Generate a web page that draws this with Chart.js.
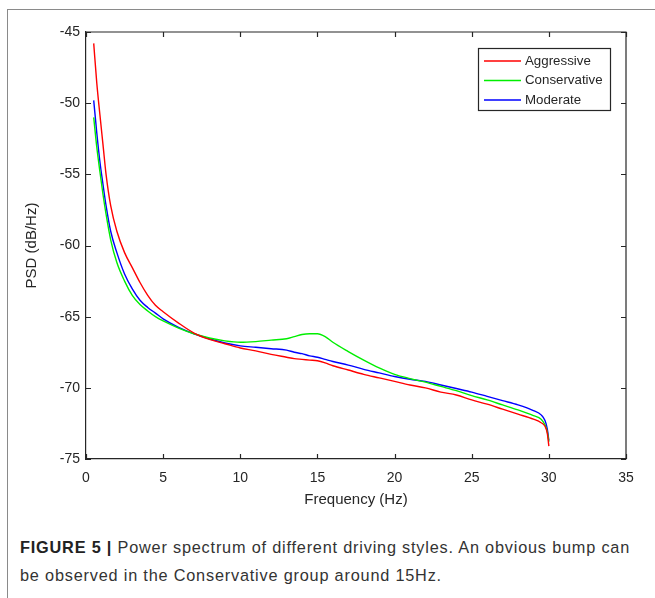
<!DOCTYPE html>
<html>
<head>
<meta charset="utf-8">
<script src="https://cdn.jsdelivr.net/npm/chart.js@4.4.1/dist/chart.umd.min.js"></script>
<style>
  html, body { margin: 0; padding: 0; background: #fff; }
  body { width: 655px; height: 598px; position: relative; overflow: hidden; font-family: "Liberation Sans", Arial, sans-serif; }
  #frame { position: absolute; left: 7px; top: 9px; width: 660px; height: 600px; border-top: 1.5px solid #8a8a8a; border-left: 1.5px solid #8a8a8a; }
  #wrap { position: absolute; left: 0; top: 0; width: 655px; height: 520px; }
  #caption { position: absolute; left: 20px; top: 533px; width: 640px; font-size: 16.3px; letter-spacing: 0.8px; line-height: 28px; color: #333; white-space: nowrap; }
  #caption b { color: #222; }
</style>
</head>
<body>
<div id="frame"></div>
<div id="wrap"><canvas id="c" width="655" height="520"></canvas></div>
<div id="caption"><b>FIGURE 5 |</b> Power spectrum of different driving styles. An obvious bump can<br>be observed in the Conservative group around 15Hz.</div>
<script>
const freq = [0.5, 0.7, 0.9, 1.1, 1.3, 1.6, 2, 2.5, 3, 3.5, 4, 4.5, 5, 6, 7, 8, 9, 10, 11, 12, 13, 13.5, 14, 14.5, 15, 15.5, 16, 17, 18, 19, 20, 21, 22, 23, 24, 25, 26, 27, 28, 29, 29.5, 29.75, 29.9, 30];
const aggressive = [-45.8, -48.6, -50.8, -52.9, -55.0, -57.2, -59.0, -60.5, -61.55, -62.6, -63.5, -64.2, -64.65, -65.45, -66.15, -66.6, -66.9, -67.2, -67.4, -67.65, -67.85, -67.95, -68.0, -68.05, -68.1, -68.25, -68.45, -68.75, -69.05, -69.3, -69.55, -69.8, -70.0, -70.3, -70.5, -70.85, -71.15, -71.5, -71.85, -72.2, -72.45, -72.7, -73.2, -74.1];
const conservative = [-51.0, -53.1, -54.8, -56.4, -57.8, -59.6, -61.2, -62.5, -63.5, -64.15, -64.6, -65.0, -65.3, -65.8, -66.2, -66.5, -66.7, -66.8, -66.75, -66.65, -66.55, -66.4, -66.25, -66.2, -66.2, -66.4, -66.8, -67.45, -68.05, -68.6, -69.05, -69.35, -69.6, -69.9, -70.2, -70.55, -70.85, -71.2, -71.55, -71.95, -72.2, -72.6, -73.1, -73.8];
const moderate = [-49.8, -52.1, -54.1, -55.7, -57.2, -59.0, -60.5, -62.0, -63.05, -63.85, -64.35, -64.75, -65.15, -65.75, -66.2, -66.55, -66.85, -67.05, -67.15, -67.25, -67.35, -67.5, -67.6, -67.75, -67.85, -68.0, -68.15, -68.4, -68.7, -68.95, -69.2, -69.4, -69.55, -69.8, -70.05, -70.3, -70.6, -70.9, -71.2, -71.6, -71.9, -72.3, -72.9, -73.7];
const seriesNames = ["Aggressive", "Conservative", "Moderate"];
const xTicks = [0, 5, 10, 15, 20, 25, 30, 35];
const yTicks = [-45, -50, -55, -60, -65, -70, -75];

const colors = ["#ff0000", "#00ee00", "#0000ff"];
const seriesData = [aggressive, conservative, moderate];
const AXIS = "#262626";

function pts(vals) { return freq.map((f, i) => ({ x: f, y: vals[i] })); }

const boxTicks = {
  id: 'boxTicks',
  afterDraw(chart) {
    const { ctx, chartArea: a, scales: { x, y } } = chart;
    ctx.save();
    ctx.strokeStyle = AXIS;
    ctx.lineWidth = 1.2;
    ctx.beginPath();
    ctx.moveTo(a.left, a.top); ctx.lineTo(a.right, a.top); ctx.lineTo(a.right, a.bottom);
    const L = 5;
    xTicks.forEach(v => {
      const px = Math.round(x.getPixelForValue(v)) + 0.5;
      ctx.moveTo(px, a.bottom); ctx.lineTo(px, a.bottom - L);
      ctx.moveTo(px, a.top); ctx.lineTo(px, a.top + L);
    });
    yTicks.forEach(v => {
      const py = Math.round(y.getPixelForValue(v)) + 0.5;
      ctx.moveTo(a.left, py); ctx.lineTo(a.left + L, py);
      ctx.moveTo(a.right, py); ctx.lineTo(a.right - L, py);
    });
    ctx.stroke();

    // legend
    const lx = 478.5, ly = 48.5, lw = 132, lh = 62;
    ctx.fillStyle = '#fff';
    ctx.fillRect(lx, ly, lw, lh);
    ctx.strokeStyle = AXIS;
    ctx.lineWidth = 1.2;
    ctx.strokeRect(lx, ly, lw, lh);
    ctx.font = '13.3px "Liberation Sans", Arial, sans-serif';
    ctx.textBaseline = 'middle';
    ctx.textAlign = 'left';
    chart.data.datasets.forEach((ds, i) => {
      const yy = 61 + i * 19.5;
      ctx.strokeStyle = ds.borderColor;
      ctx.lineWidth = 1.3;
      ctx.beginPath(); ctx.moveTo(484, yy); ctx.lineTo(521, yy); ctx.stroke();
      ctx.fillStyle = '#262626';
      ctx.fillText(ds.label, 525, yy);
    });
    ctx.restore();
  }
};

new Chart(document.getElementById('c'), {
  type: 'scatter',
  data: {
    datasets: seriesData.map((vals, i) => ({
      label: seriesNames[i],
      data: pts(vals),
      showLine: true,
      borderColor: colors[i],
      backgroundColor: colors[i],
      borderWidth: 1.4,
      pointRadius: 0,
      cubicInterpolationMode: 'monotone',
      fill: false
    }))
  },
  options: {
    responsive: false,
    animation: false,
    events: [],
    layout: { padding: { top: 32, right: 29, left: 0, bottom: 0 } },
    plugins: { legend: { display: false }, tooltip: { enabled: false } },
    scales: {
      x: {
        type: 'linear', min: 0, max: 35,
        afterBuildTicks(s) { s.ticks = xTicks.map(v => ({ value: v })); },
        afterFit(s) { s.height = 61; },
        grid: { display: false, drawTicks: false },
        border: { display: true, color: AXIS, width: 1.2 },
        ticks: { color: AXIS, font: { size: 14, family: '"Liberation Sans", Arial, sans-serif' }, padding: 11, maxRotation: 0 },
        title: { display: true, text: 'Frequency (Hz)', color: AXIS, font: { size: 15, family: '"Liberation Sans", Arial, sans-serif' }, padding: { top: 0, bottom: 11 } }
      },
      y: {
        type: 'linear', min: -75, max: -45,
        afterBuildTicks(s) { s.ticks = yTicks.map(v => ({ value: v })); },
        afterFit(s) { s.width = 86; },
        grid: { display: false, drawTicks: false },
        border: { display: true, color: AXIS, width: 1.2 },
        ticks: { color: AXIS, font: { size: 14, family: '"Liberation Sans", Arial, sans-serif' }, padding: 6 },
        title: { display: true, text: 'PSD (dB/Hz)', color: AXIS, font: { size: 15, family: '"Liberation Sans", Arial, sans-serif' }, padding: { top: 23, bottom: 0 } }
      }
    }
  },
  plugins: [boxTicks]
});
</script>
</body>
</html>
